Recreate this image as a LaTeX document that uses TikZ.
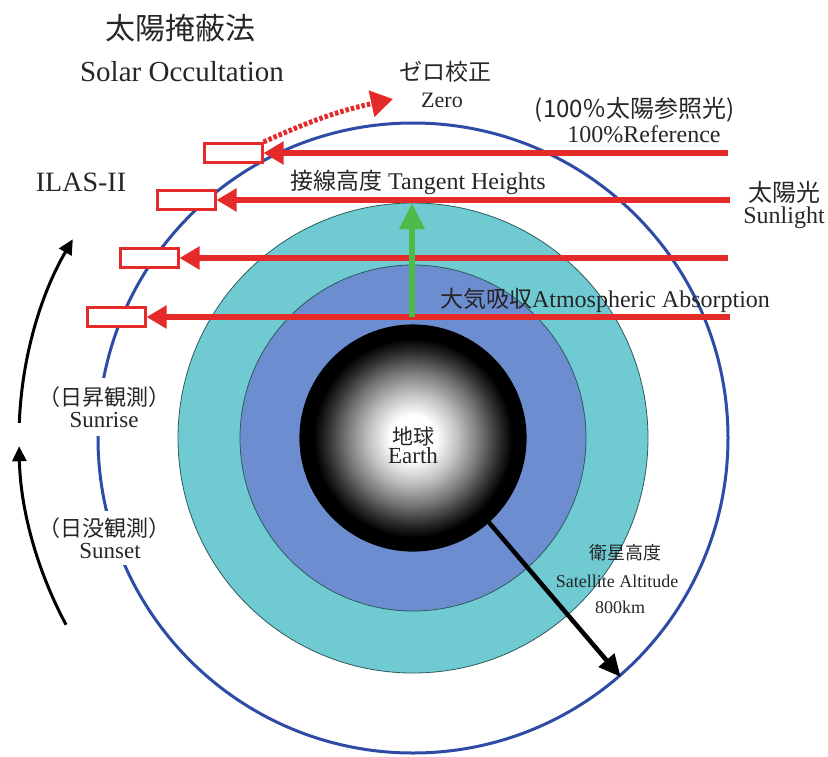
\documentclass[tikz,border=0pt]{standalone}
\usepackage{fontspec}
\setmainfont{Liberation Serif}
\newfontfamily\cjk{Noto Sans CJK JP}
\usetikzlibrary{arrows.meta,calc}

\definecolor{ink}{HTML}{262626}
\definecolor{ray}{HTML}{E52A2A}
\definecolor{orbitblue}{HTML}{2E4BA6}
\definecolor{outeratm}{HTML}{6FCAD2}
\definecolor{inneratm}{HTML}{6C8ED0}
\definecolor{rim}{HTML}{2F5A5C}
\definecolor{upgreen}{HTML}{4DBB48}

% Earth: white core fading through grey to a black limb
\pgfdeclareradialshading{earthshade}{\pgfpoint{0bp}{0bp}}{%
  color(0bp)=(white); color(5bp)=(white); color(10bp)=(black!25);
  color(15bp)=(black!55); color(19bp)=(black!82); color(22bp)=(black);
  color(50bp)=(black)}

\newcommand{\fsz}[1]{\fontsize{#1}{#1}\selectfont}

\tikzset{
  lbl/.style={text=ink, inner sep=0pt},
  shell/.style={circle, inner sep=0pt, draw=rim, line width=0.8pt},
  sensor/.style={draw=ray, line width=3pt, fill=white,
    minimum width=58pt, minimum height=19pt, inner sep=0pt},
  sunray/.style={draw=ray, line width=6pt,
    -{Triangle[length=20pt, width=22pt]}},
  zeroray/.style={draw=ray, line width=5pt, dash pattern=on 3.5pt off 2pt,
    -{Triangle[length=22pt, width=26pt]}},
  tanarrow/.style={draw=upgreen, line width=6pt,
    -{Triangle[length=26pt, width=24pt]}},
  altarrow/.style={draw=black, line width=4.5pt,
    -{Triangle[length=22pt, width=20pt]}},
  sweep/.style={draw=black, line width=3pt,
    -{Triangle[length=15pt, width=14pt]}},
}

\begin{document}
\begin{tikzpicture}[x=1pt, y=-1pt]
\useasboundingbox (0,0) rectangle (828,756);

\coordinate (E) at (413,438);

% atmosphere shells, Earth and orbit
\node[shell, fill=outeratm, minimum size=470pt] (outer) at (E) {};
\node[shell, fill=inneratm, minimum size=346pt] (inner) at (E) {};
\node[circle, inner sep=0pt, minimum size=226pt, shading=earthshade,
      draw=black, line width=1.2pt] (earth) at (E) {};
\node[circle, inner sep=0pt, minimum size=630pt, draw=orbitblue,
      line width=3pt] (orbit) at (E) {};

% instrument positions along the orbit
\node[sensor] (s1) at (233,153) {};
\node[sensor] (s2) at (186,200) {};
\node[sensor] (s3) at (149,258) {};
\node[sensor] (s4) at (116,317) {};

% incoming sunlight
\coordinate (r1) at (728,153);
\coordinate (r2) at (730,200);
\coordinate (r3) at (728,258);
\coordinate (r4) at (730,317);
\draw[sunray] (r1) -- (s1.east);
\draw[sunray] (r2) -- (s2.east);
\draw[sunray] (r3) -- (s3.east);
\draw[sunray] (r4) -- (s4.east);

% tangent height arrow
\coordinate (g0) at (412,317);
\coordinate (g1) at (412,203);
\draw[tanarrow] (g0) -- (g1);

% zero calibration view
\coordinate (z1) at (393,99);
\draw[zeroray] (s1.north east) to[bend left=6] (z1);

% satellite altitude
\draw[altarrow] (earth.-48) -- (orbit.-49.6);

% labels
\node[lbl, font=\cjk\fsz{30}] (title) at (180,28) {太陽掩蔽法};
\node[lbl, font=\fsz{29}] (titleen) at (182,72) {Solar Occultation};
\node[lbl, font=\cjk\fsz{23}] (zeroj) at (445,72) {ゼロ校正};
\node[lbl, font=\fsz{22}] (zeroe) at (442,100) {Zero};
\node[lbl, font=\cjk\fsz{24}] (refj) at (635,110) {(100％太陽参照光)};
\node[lbl, font=\fsz{24}] (refe) at (644,134) {100\%Reference};
\node[lbl, font=\fsz{28}] (ilas) at (81,182) {ILAS-II};
\node[lbl, font=\fsz{24}] (tang) at (418,182) {{\cjk\fsz{23}接線高度} Tangent Heights};
\node[lbl, font=\cjk\fsz{24}] (sunj) at (784,192) {太陽光};
\node[lbl, font=\fsz{24}] (sune) at (784,218) {Sunlight};
\node[lbl, font=\fsz{24}] (absorb) at (605,300) {{\cjk\fsz{23}大気吸収}Atmospheric Absorption};
\node[lbl, fill=white, inner xsep=3pt, inner ysep=8pt, align=center] (rise) at (104,407)
  {{\cjk\fsz{22}（日昇観測）}\\[4pt]{\fsz{23}Sunrise}};
\node[lbl, fill=white, inner xsep=3pt, inner ysep=6pt, align=center] (set) at (104,538)
  {{\cjk\fsz{22}（日没観測）}\\[4pt]{\fsz{23}\hspace*{12pt}Sunset}};
\node[lbl, font=\cjk\fsz{21}] (earthj) at (413,436) {地球};
\node[lbl, font=\fsz{23}] (earthe) at (413,456) {Earth};
\node[lbl, font=\cjk\fsz{18}] (altj) at (625,553) {衛星高度};
\node[lbl, font=\fsz{18}] (alte) at (617,581) {Satellite Altitude};
\node[lbl, font=\fsz{18}] (altv) at (620,607) {800km};

% direction of motion
\draw[sweep] (E) ++(151.7:394) arc[start angle=151.7, end angle=178.8, radius=394];
\draw[sweep] (E) ++(182.2:394) arc[start angle=182.2, end angle=210.3, radius=394];
\end{tikzpicture}
\end{document}
